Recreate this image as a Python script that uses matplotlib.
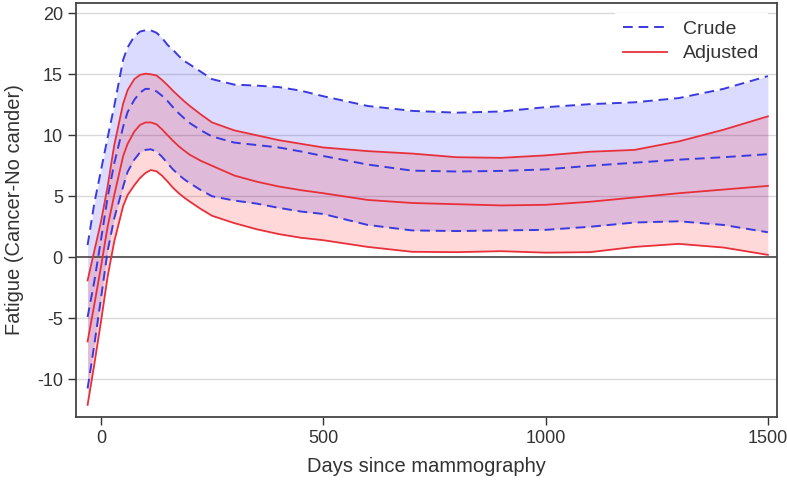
import numpy as np
import matplotlib.pyplot as plt

plt.rcParams['font.family'] = ['Liberation Sans', 'DejaVu Sans']
plt.rcParams['axes.unicode_minus'] = False

# days since mammography
days = [-30, -15, 0, 15, 30, 50, 60, 75, 88, 100, 112, 125, 137, 150, 162, 175, 187, 200, 225, 250,
        300, 350, 400, 450, 500, 600, 700, 800, 900, 1000, 1100, 1200, 1300, 1400, 1500]

# crude estimate with confidence band
crude_hi = [1.0, 4.4, 7.1, 9.8, 12.4, 16.2, 17.2, 18.1, 18.5, 18.6, 18.6, 18.4, 18.0, 17.4, 17.0, 16.5, 16.1, 15.8, 15.2, 14.6,
            14.15, 14.07, 13.95, 13.65, 13.2, 12.4, 12.0, 11.85, 11.95, 12.3, 12.55, 12.7, 13.05, 13.8, 14.85]
crude_mid = [-4.9, -2.0, 1.4, 4.9, 7.7, 10.7, 11.9, 12.9, 13.5, 13.8, 13.8, 13.6, 13.25, 12.8, 12.3, 11.8, 11.4, 11.0, 10.4, 9.9,
             9.4, 9.2, 9.0, 8.67, 8.3, 7.6, 7.1, 7.03, 7.08, 7.2, 7.5, 7.75, 8.0, 8.2, 8.45]
crude_lo = [-10.75, -7.2, -3.4, 0.5, 3.2, 5.8, 7.0, 8.0, 8.6, 8.8, 8.85, 8.67, 8.25, 7.7, 7.2, 6.76, 6.4, 6.07, 5.5, 5.0,
            4.65, 4.4, 4.05, 3.75, 3.55, 2.65, 2.2, 2.15, 2.2, 2.25, 2.5, 2.85, 2.95, 2.65, 2.05]

# adjusted estimate with confidence band
adj_hi = [-1.9, 0.5, 2.9, 5.8, 9.2, 12.6, 13.7, 14.6, 14.95, 15.05, 15.0, 14.9, 14.55, 14.1, 13.65, 13.2, 12.8, 12.4, 11.7, 11.05,
          10.4, 10.0, 9.6, 9.3, 9.0, 8.7, 8.5, 8.2, 8.15, 8.35, 8.65, 8.8, 9.5, 10.45, 11.55]
adj_mid = [-6.9, -3.9, -0.8, 2.5, 5.1, 8.3, 9.3, 10.3, 10.85, 11.05, 11.05, 10.9, 10.5, 10.0, 9.55, 9.1, 8.75, 8.4, 7.9, 7.5,
           6.7, 6.2, 5.8, 5.5, 5.25, 4.7, 4.45, 4.35, 4.25, 4.3, 4.55, 4.9, 5.25, 5.55, 5.85]
adj_lo = [-12.1, -8.8, -5.3, -1.6, 1.3, 4.2, 5.1, 5.9, 6.5, 6.9, 7.15, 7.05, 6.7, 6.2, 5.7, 5.25, 4.9, 4.56, 3.95, 3.4,
          2.8, 2.3, 1.9, 1.6, 1.4, 0.85, 0.45, 0.42, 0.5, 0.38, 0.42, 0.85, 1.1, 0.8, 0.2]

blue = '#3a3ae0'
red = '#e8303a'
txt = '#333333'

fig = plt.figure(figsize=(7.87, 4.8), dpi=100)
ax = fig.add_axes([0.0966, 0.131, 0.8904, 0.863])

# bands
ax.fill_between(days, crude_lo, crude_hi, color='#0000ff', alpha=0.14, lw=0)
ax.fill_between(days, adj_lo, adj_hi, color='#ff0000', alpha=0.15, lw=0)

# grid and zero line
for yv in [-10, -5, 5, 10, 15, 20]:
    ax.axhline(yv, color='#d9d9d9', lw=1, zorder=0)
ax.axhline(0, color='#444444', lw=1.2, zorder=1)

# lines
dash = (0, (5, 3))
ax.plot(days, crude_hi, color=blue, ls=dash, lw=1.4)
ax.plot(days, crude_mid, color=blue, ls=dash, lw=1.4, label='Crude')
ax.plot(days, crude_lo, color=blue, ls=dash, lw=1.4)
ax.plot(days, adj_hi, color=red, lw=1.3)
ax.plot(days, adj_mid, color=red, lw=1.3, label='Adjusted')
ax.plot(days, adj_lo, color=red, lw=1.3)

ax.set_xlim(-56, 1520)
ax.set_ylim(-13.1, 20.85)
ax.set_xticks([0, 500, 1000, 1500])
ax.set_yticks([-10, -5, 0, 5, 10, 15, 20])
ax.tick_params(labelsize=13, colors=txt, length=6, width=1)
for s in ax.spines.values():
    s.set_color('#444444')
    s.set_linewidth(1.3)

ax.set_xlabel('Days since mammography', fontsize=14.5, color=txt, labelpad=7)
ax.set_ylabel('Fatigue (Cancer-No cander)', fontsize=14.5, color=txt, labelpad=9)

leg = ax.legend(loc='upper right', fontsize=14, frameon=True, framealpha=1,
                edgecolor='white', fancybox=False, handlelength=2.3, handletextpad=0.8,
                labelspacing=0.35, borderaxespad=0.5, labelcolor=txt)

fig.savefig('out.png', dpi=100)
